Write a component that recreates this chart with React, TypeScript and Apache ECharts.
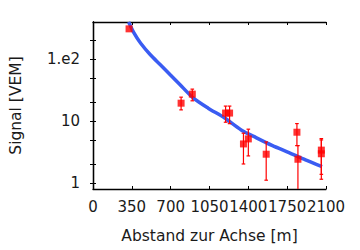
import React, { useEffect, useRef } from "react";
import * as echarts from "echarts";

// Measured points (distance [m], signal [VEM])
const pointX = [325, 794, 895, 1195, 1231, 1356, 1400, 1561, 1838, 1847, 2058, 2058];
const pointY = [310, 19.5, 27.3, 13.5, 13.5, 4.28, 5.16, 2.92, 6.62, 2.42, 3.4, 2.97];
const errLow = [310, 15.2, 21.3, 9.6, 9.1, 2.03, 2.74, 1.11, 4.02, 0.5, 1.38, 1.15];
const errHigh = [310, 24.4, 32.9, 17.5, 17.5, 6.38, 7.41, 4.61, 9.13, 4.02, 5.22, 4.97];

// Fitted curve
const curveX = [321, 369, 428, 517, 607, 696, 785, 905, 1038, 1187, 1335, 1469, 1618, 1766, 1915, 2064];
const curveY = [400, 266, 183, 118, 81.5, 56, 38.7, 23.5, 16.2, 11.2, 7.21, 5.42, 4.02, 3.1, 2.36, 1.84];

const xTicks = [0, 350, 700, 1050, 1400, 1750, 2100];
const yLabelValues = [1, 10, 100];
const yTickValues = [1, 2, 5, 10, 20, 50, 100, 200];

const FONT = "DejaVu Sans";
const TXT = "#1a1a1a";
const FS = 15.5;
const FS_TICK = 15;

export default function App() {
  const ref = useRef<HTMLDivElement>(null);
  useEffect(() => {
    if (!ref.current) return;
    const chart = echarts.init(ref.current, null, { renderer: "svg" });
    const tickStyle = { show: true, inside: true, length: 3, lineStyle: { color: "#000", width: 1 } };
    const lineStyle = { show: true, lineStyle: { color: "#000", width: 1.3 } };
    chart.setOption({
      animation: false,
      backgroundColor: "#fff",
      grid: { left: 90, right: 34, top: 22, bottom: 61 },
      xAxis: [
        {
          type: "value",
          min: 0,
          max: 2100,
          interval: 350,
          position: "bottom",
          axisLine: lineStyle,
          axisTick: tickStyle,
          splitLine: { show: false },
          axisLabel: {
            fontFamily: FONT,
            fontSize: FS_TICK,
            color: TXT,
            margin: 10,
            interval: 0,
            hideOverlap: false,
            showMaxLabel: true,
            showMinLabel: true,
            formatter: (v: number) => String(Math.round(v)),
          },
          name: "Abstand zur Achse [m]",
          nameLocation: "middle",
          nameGap: 39,
          nameTextStyle: { fontFamily: FONT, fontSize: FS, color: TXT },
        },
        {
          type: "value",
          min: 0,
          max: 2100,
          interval: 350,
          position: "top",
          axisLine: lineStyle,
          axisTick: tickStyle,
          splitLine: { show: false },
          axisLabel: { show: false },
        },
      ],
      yAxis: [
        {
          type: "log",
          min: 0.8,
          max: 400,
          position: "left",
          axisLine: lineStyle,
          axisTick: { ...tickStyle, customValues: yTickValues },
          splitLine: { show: false },
          minorTick: { show: false },
          axisLabel: {
            fontFamily: FONT,
            fontSize: FS_TICK,
            color: TXT,
            margin: 13,
            customValues: yLabelValues,
            formatter: (v: number) => (Math.abs(v - 100) < 1e-6 ? "1.e2" : String(Math.round(v))),
          },
          name: "Signal [VEM]",
          nameLocation: "middle",
          nameGap: 69,
          nameTextStyle: { fontFamily: FONT, fontSize: FS, color: TXT },
        },
        {
          type: "log",
          min: 0.8,
          max: 400,
          position: "right",
          axisLine: lineStyle,
          axisTick: { ...tickStyle, customValues: yTickValues },
          splitLine: { show: false },
          axisLabel: { show: false },
        },
      ],
      series: [
        {
          type: "line",
          data: curveX.map((x, i) => [x, curveY[i]]),
          showSymbol: false,
          smooth: 0.25,
          clip: true,
          lineStyle: { color: "#3a5cf2", width: 3.5 },
          z: 2,
        },
        {
          type: "custom",
          clip: true,
          data: pointX.map((x, i) => [x, errLow[i], errHigh[i]]),
          renderItem: (params: any, api: any) => {
            const x = api.value(0);
            const lo = api.value(1);
            const hi = api.value(2);
            if (lo === hi) return { type: "group", children: [] };
            const pHi = api.coord([x, hi]);
            const pLo = api.coord([x, lo]);
            const s = { stroke: "#ff0000", lineWidth: 1.2 };
            const w = 1.8;
            return {
              type: "group",
              children: [
                { type: "line", shape: { x1: pHi[0], y1: pHi[1], x2: pLo[0], y2: pLo[1] }, style: s },
                { type: "line", shape: { x1: pHi[0] - w, y1: pHi[1], x2: pHi[0] + w, y2: pHi[1] }, style: s },
                { type: "line", shape: { x1: pLo[0] - w, y1: pLo[1], x2: pLo[0] + w, y2: pLo[1] }, style: s },
              ],
            };
          },
          z: 3,
        },
        {
          type: "scatter",
          data: pointX.map((x, i) => [x, pointY[i]]),
          symbol: "rect",
          symbolSize: 7,
          itemStyle: { color: "#ff0000" },
          z: 4,
        },
      ],
    });
    return () => chart.dispose();
  }, []);
  return (
    <div
      ref={ref}
      style={{ position: "fixed", left: 0, top: 0, width: 360, height: 250, background: "#fff" }}
    />
  );
}
